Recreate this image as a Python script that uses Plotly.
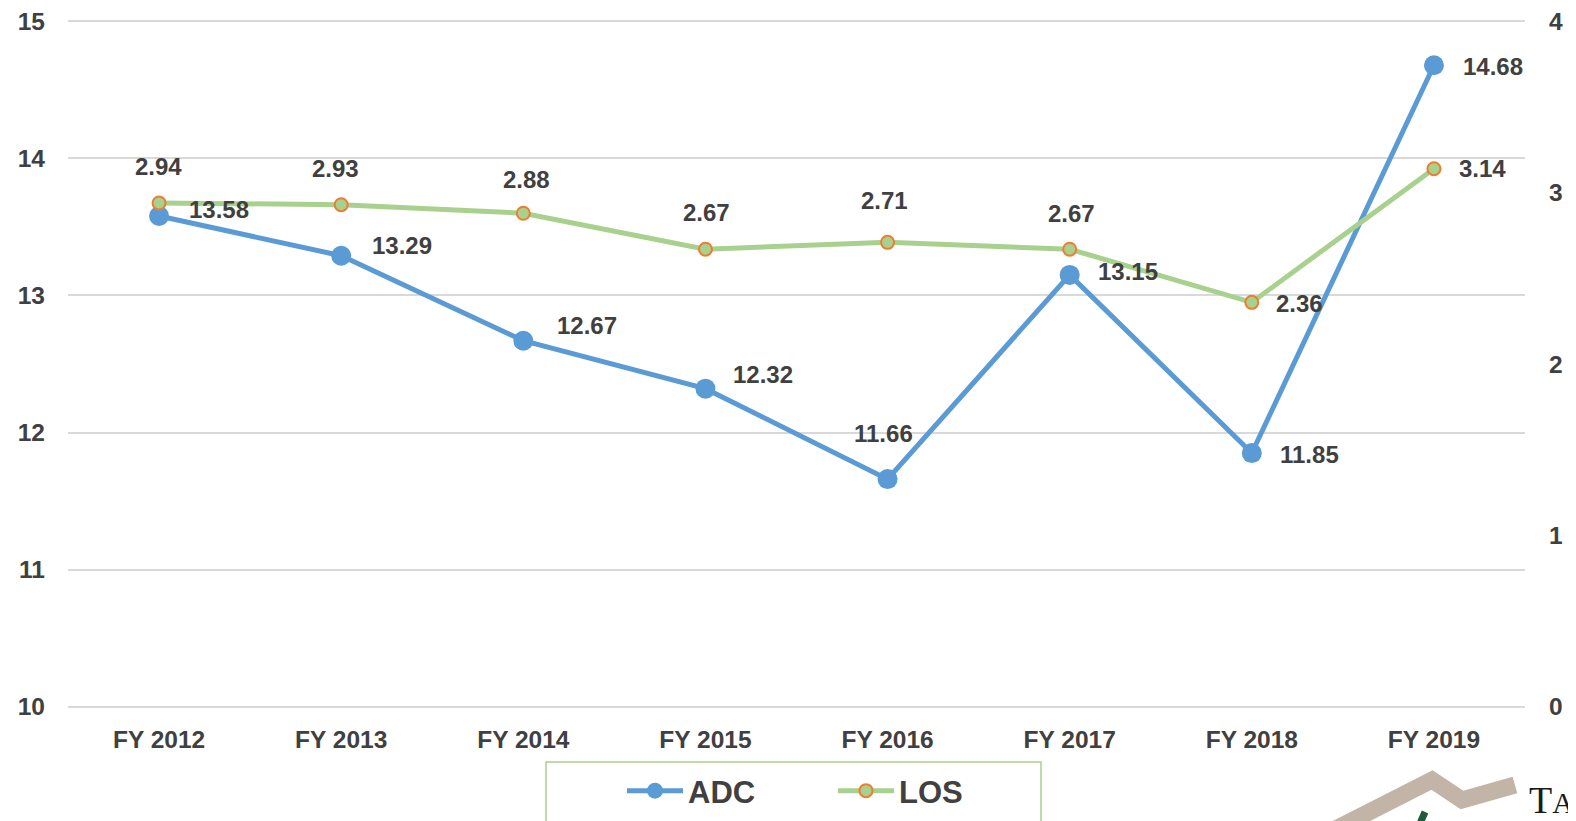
import plotly.graph_objects as go

categories = ["FY 2012", "FY 2013", "FY 2014", "FY 2015", "FY 2016", "FY 2017", "FY 2018", "FY 2019"]
adc = [13.58, 13.29, 12.67, 12.32, 11.66, 13.15, 11.85, 14.68]
los = [2.94, 2.93, 2.88, 2.67, 2.71, 2.67, 2.36, 3.14]
left_ticks = [10, 11, 12, 13, 14, 15]
right_ticks = [0, 1, 2, 3, 4]

# label offsets (pixels) : style only
adc_shift = [(60, 6), (61, 10), (64, 15), (58, 14), (-4, 46), (58, 3), (58, -1), (59, -1)]
los_shift = [(-1, 36), (-6, 36), (3, 34), (1, 37), (-3, 42), (2, 36), (48, -1), (49, 0)]

BLUE = "#5b9bd5"
GREEN = "#a9d18e"
ORANGE = "#ed7d31"
TXT = "#404040"
FONT = "Liberation Sans"

# page body has an 8px margin; work in window pixels and convert
OFF = 8
W, H = 1576 - OFF, 821 - OFF
L, R, T, B = 68 - OFF, 1525 - OFF, 20 - OFF, 708 - OFF
PW, PH = R - L, B - T


def px(xp):
    return (xp - OFF - L) / PW


def py(yp):
    return (B - (yp - OFF)) / PH


fig = go.Figure()
fig.add_trace(go.Scatter(
    x=categories, y=adc, name="ADC", mode="lines+markers",
    line=dict(color=BLUE, width=5),
    marker=dict(color=BLUE, size=20, line=dict(width=0)),
    yaxis="y",
))
fig.add_trace(go.Scatter(
    x=categories, y=los, name="LOS", mode="lines+markers",
    line=dict(color=GREEN, width=5),
    marker=dict(color=GREEN, size=13, line=dict(color=ORANGE, width=2)),
    yaxis="y2",
))

annotations = []
for c, v, (dx, dy) in zip(categories, adc, adc_shift):
    annotations.append(dict(x=c, y=v, xref="x", yref="y", text=f"{v:.2f}", showarrow=False,
                            xshift=dx, yshift=dy,
                            font=dict(family=FONT, size=24, color=TXT, weight="bold")))
for c, v, (dx, dy) in zip(categories, los, los_shift):
    annotations.append(dict(x=c, y=v, xref="x", yref="y2", text=f"{v:.2f}", showarrow=False,
                            xshift=dx, yshift=dy,
                            font=dict(family=FONT, size=24, color=TXT, weight="bold")))
annotations.append(dict(x=px(1527), y=py(800), xref="paper", yref="paper",
                        text="T<span style='font-size:30px'>A</span>",
                        showarrow=False, xanchor="left", yanchor="middle",
                        font=dict(family="Liberation Serif", size=38, color="#1a1a1a", weight="normal")))

shapes = [
    # legend box
    dict(type="rect", xref="paper", yref="paper", x0=px(546), x1=px(1041),
         y0=py(762), y1=py(840), line=dict(color=GREEN, width=1.5),
         fillcolor="rgba(0,0,0,0)"),
    # logo brush stroke
    dict(type="path", xref="paper", yref="paper",
         path="M {:.4f},{:.4f} L {:.4f},{:.4f} L {:.4f},{:.4f} L {:.4f},{:.4f}".format(
             px(1322), py(836), px(1432), py(780), px(1462), py(800), px(1515), py(785)),
         line=dict(color="#c2b4a6", width=17), layer="above"),
    dict(type="path", xref="paper", yref="paper",
         path="M {:.4f},{:.4f} L {:.4f},{:.4f}".format(px(1419), py(826), px(1425), py(812)),
         line=dict(color="#1f5a3a", width=7)),
]

fig.update_layout(
    width=W, height=H,
    margin=dict(l=L, r=W - R, t=T, b=H - B, autoexpand=False),
    paper_bgcolor="white", plot_bgcolor="white",
    font=dict(family=FONT, color=TXT, weight="bold"),
    showlegend=True,
    legend=dict(orientation="h", x=px(622), y=py(764), xanchor="left", yanchor="top",
                font=dict(family=FONT, size=31, color=TXT, weight="bold"),
                entrywidth=140, entrywidthmode="pixels", itemwidth=56,
                bgcolor="rgba(0,0,0,0)", borderwidth=0, tracegroupgap=0),
    xaxis=dict(type="category", range=[-0.5, 7.5], showgrid=False, zeroline=False,
               showline=False, ticks="", ticklabelstandoff=14, automargin=False,
               ticklabeloverflow="allow",
               tickfont=dict(family=FONT, size=24.5, color=TXT, weight="bold")),
    yaxis=dict(range=[9.99, 15.01], tickvals=left_ticks, showgrid=True, gridcolor="#d9d9d9", gridwidth=1.5,
               zeroline=False, showline=False, ticks="", ticklabelstandoff=22, automargin=False,
               ticklabeloverflow="allow",
               tickfont=dict(family=FONT, size=24.5, color=TXT, weight="bold")),
    yaxis2=dict(range=[-0.008, 4.008], tickvals=right_ticks, overlaying="y", side="right", showgrid=False,
                zeroline=False, showline=False, ticks="", ticklabelstandoff=23, automargin=False,
                ticklabeloverflow="allow",
                tickfont=dict(family=FONT, size=24.5, color=TXT, weight="bold")),
    annotations=annotations,
    shapes=shapes,
)

fig.write_html("out.html")
